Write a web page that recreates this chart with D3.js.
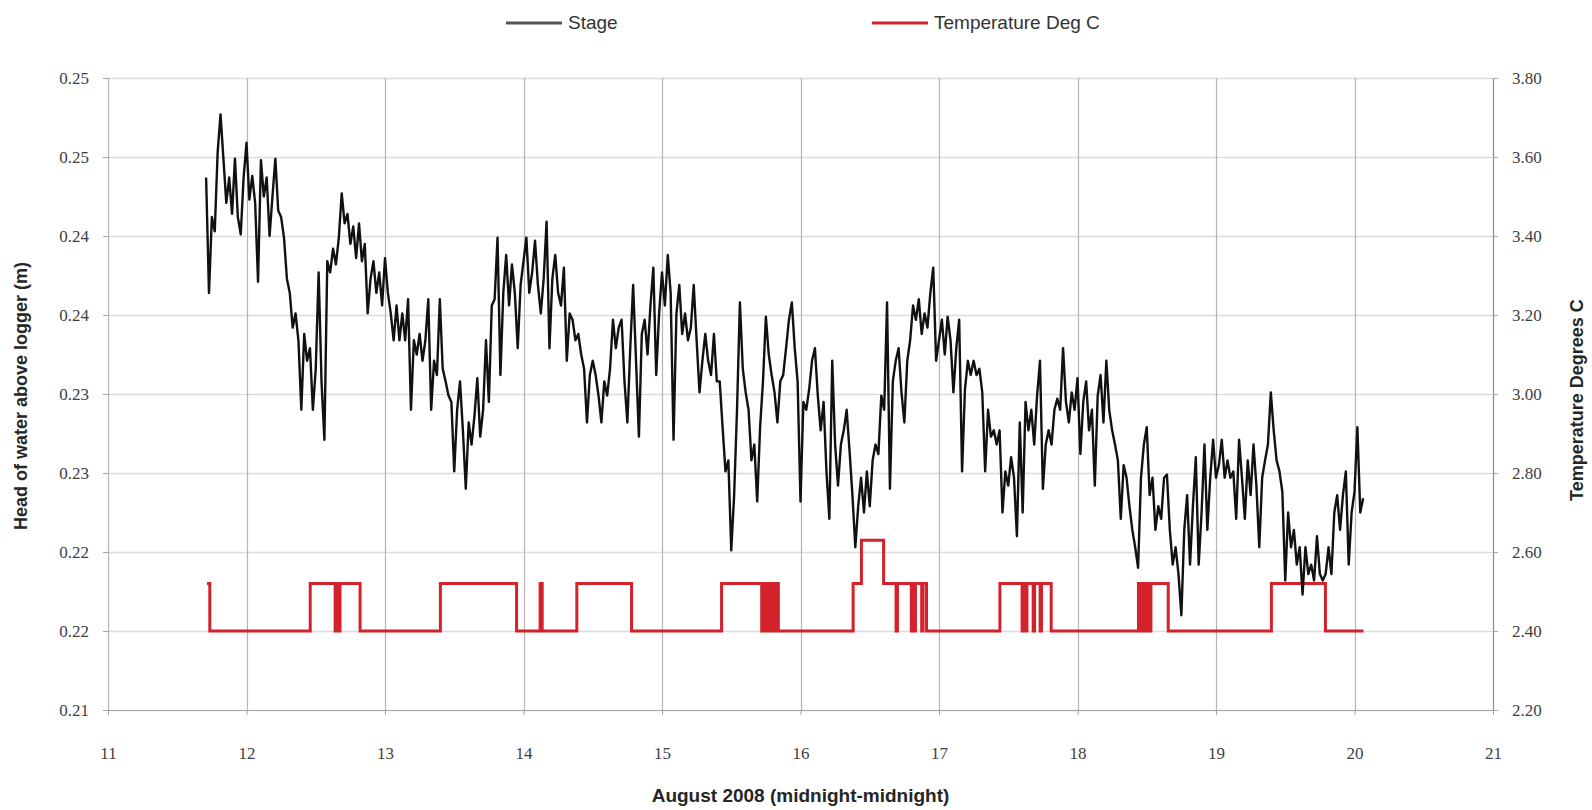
<!DOCTYPE html>
<html>
<head>
<meta charset="utf-8">
<script src="https://cdn.jsdelivr.net/npm/d3@7"></script>
<style>
  html, body { margin: 0; padding: 0; background: #fff; }
  svg { display: block; }
</style>
</head>
<body>
<svg id="chart" width="1592" height="810"></svg>
<script>
// ---------------- DATA ----------------
const dayTicks = [11, 12, 13, 14, 15, 16, 17, 18, 19, 20, 21];
const stageTickValues = [0.21, 0.215, 0.22, 0.225, 0.23, 0.235, 0.24, 0.245, 0.25];
const stageTickLabels = ["0.21", "0.22", "0.22", "0.23", "0.23", "0.24", "0.24", "0.25", "0.25"];
const tempTickValues = [2.2, 2.4, 2.6, 2.8, 3.0, 3.2, 3.4, 3.6, 3.8];
const tempTickLabels = ["2.20", "2.40", "2.60", "2.80", "3.00", "3.20", "3.40", "3.60", "3.80"];

// Stage logged every 30 minutes from 17:00 on 11 August
const stageStartDay = 11.7083;
const stageIntervalDays = 1 / 48;
const stageValues = [
  0.2437,0.2364,0.2412,0.2403,0.2453,0.2477,0.2449,0.2421,0.2437,0.2414,
  0.2449,0.2412,0.2401,0.2437,0.2459,0.2423,0.2438,0.2421,0.2371,0.2448,
  0.2425,0.2437,0.2400,0.2425,0.2449,0.2416,0.2412,0.2399,0.2373,0.2364,
  0.2342,0.2351,0.2334,0.2290,0.2338,0.2321,0.2329,0.2290,0.2316,0.2377,
  0.2308,0.2271,0.2384,0.2377,0.2392,0.2382,0.2399,0.2427,0.2408,0.2414,
  0.2395,0.2406,0.2386,0.2408,0.2384,0.2395,0.2351,0.2373,0.2384,0.2364,
  0.2377,0.2356,0.2386,0.2364,0.2351,0.2334,
  0.2356,0.2334,0.2351,0.2334,
  0.2360,0.2290,0.2334,0.2325,0.2338,0.2321,0.2334,0.2360,0.2290,0.2321,
  0.2312,0.2360,0.2316,0.2308,0.2299,0.2295,0.2251,0.2290,0.2308,0.2277,
  0.2240,0.2282,0.2268,0.2286,0.2310,0.2273,0.2290,0.2334,0.2295,0.2356,
  0.2360,0.2399,0.2312,0.2364,0.2388,0.2356,0.2382,0.2364,0.2329,0.2369,
  0.2384,0.2399,0.2364,0.2377,0.2397,0.2369,0.2351,0.2373,0.2409,0.2329,
  0.2373,0.2388,0.2364,0.2356,0.2380,0.2321,0.2351,0.2347,0.2334,0.2338,
  0.2325,0.2316,0.2282,0.2312,
  0.2321,0.2312,0.2299,0.2282,0.2308,0.2299,
  0.2316,0.2347,0.2329,0.2342,0.2347,0.2308,0.2282,0.2329,0.2369,0.2321,
  0.2273,0.2338,0.2347,0.2325,0.2356,0.2380,0.2312,0.2351,0.2377,0.2356,
  0.2388,0.2364,0.2271,0.2351,0.2369,0.2338,0.2351,0.2334,0.2342,0.2369,
  0.2334,0.2301,0.2321,0.2338,0.2321,0.2312,0.2338,0.2308,0.2308,0.2279,
  0.2251,0.2258,0.2201,0.2236,0.2290,0.2358,0.2316,0.2301,0.2290,0.2258,
  0.2268,0.2232,0.2279,0.2308,0.2349,0.2325,0.2312,0.2301,0.2282,0.2308,
  0.2312,
  0.2329,0.2347,0.2358,0.2329,0.2308,0.2232,0.2295,0.2290,0.2303,
  0.2321,0.2329,0.2299,0.2277,0.2295,0.2251,0.2221,0.2321,0.2268,0.2242,
  0.2268,0.2277,0.2290,0.2264,0.2236,0.2203,0.2229,0.2247,0.2225,0.2251,
  0.2229,0.2258,0.2268,0.2262,0.2299,0.2290,0.2358,0.2240,0.2308,0.2321,
  0.2329,0.2301,0.2282,0.2321,0.2334,0.2356,0.2347,0.2360,0.2338,0.2351,
  0.2342,0.2364,0.2380,0.2321,0.2334,0.2347,0.2325,0.2349,0.2334,0.2301,
  0.2329,0.2347,0.2251,0.2303,0.2321,0.2312,0.2321,0.2312,0.2316,
  0.2301,0.2251,0.2290,0.2273,0.2277,0.2268,0.2277,0.2225,0.2251,0.2242,0.2260,
  0.2247,0.2210,0.2282,0.2225,0.2295,0.2277,0.2290,0.2268,0.2299,0.2321,
  0.2240,0.2268,0.2277,0.2268,0.2290,0.2297,0.2290,0.2329,0.2295,0.2282,
  0.2301,0.2290,0.2310,0.2262,0.2295,0.2308,0.2277,0.2290,0.2242,0.2299,
  0.2312,0.2282,0.2321,0.2290,0.2277,0.2268,0.2258,0.2221,0.2255,0.2247,
  0.2229,0.2214,0.2203,0.2190,0.2247,0.2268,0.2279,0.2236,0.2247,0.2214,
  0.2229,0.2221,0.2247,0.2249,0.2214,0.2192,
  0.2203,0.2186,0.2160,0.2214,
  0.2236,0.2192,0.2229,0.2260,0.2192,0.2225,0.2268,0.2214,0.2247,0.2271,
  0.2247,0.2255,0.2271,0.2247,0.2258,0.2247,0.2251,0.2221,0.2271,0.2247,
  0.2221,0.2258,0.2236,0.2268,0.2242,0.2203,0.2247,0.2258,0.2268,0.2301,
  0.2277,0.2258,0.2251,0.2238,0.2182,0.2225,0.2203,0.2214,0.2192,0.2203,
  0.2173,0.2203,0.2186,0.2192,0.2182,0.2210,0.2186,0.2182,0.2186,0.2203,
  0.2186,0.2225,0.2236,0.2214,0.2236,0.2251,0.2192,0.2225,0.2238,0.2279,
  0.2225,0.2234
];

// Temperature change points (step function)
const tempDays = [
  11.715, 11.735, 12.46, 12.64, 12.655, 12.665, 12.675, 12.82,
  13.40, 13.95, 14.12, 14.135, 14.385, 14.78,
  15.43, 15.72, 15.73, 15.74, 15.75, 15.76, 15.77, 15.78, 15.79, 15.80, 15.81, 15.82, 15.83, 15.84,
  16.38, 16.44, 16.60, 16.69, 16.70, 16.80, 16.81, 16.82, 16.83, 16.875, 16.885, 16.91,
  17.44, 17.60, 17.61, 17.625, 17.635, 17.68, 17.69, 17.73, 17.74, 17.81,
  18.44, 18.46, 18.47, 18.49, 18.50, 18.52, 18.53, 18.655,
  19.40, 19.79, 20.065
];
const tempValues = [
  2.52, 2.40, 2.52, 2.40, 2.52, 2.40, 2.52, 2.40,
  2.52, 2.40, 2.52, 2.40, 2.52, 2.40,
  2.52, 2.40, 2.52, 2.40, 2.52, 2.40, 2.52, 2.40, 2.52, 2.40, 2.52, 2.40, 2.52, 2.40,
  2.52, 2.63, 2.52, 2.40, 2.52, 2.40, 2.52, 2.40, 2.52, 2.40, 2.52, 2.40,
  2.52, 2.40, 2.52, 2.40, 2.52, 2.40, 2.52, 2.40, 2.52, 2.40,
  2.52, 2.40, 2.52, 2.40, 2.52, 2.40, 2.52, 2.40,
  2.52, 2.40, 2.40
];

const seriesNames = ["Stage", "Temperature Deg C"];
const xTitle = "August 2008 (midnight-midnight)";
const yLeftTitle = "Head of water above logger (m)";
const yRightTitle = "Temperature Degrees C";

// ---------------- CHART ----------------
const svg = d3.select("#chart");
const plot = { left: 108, right: 1493, top: 78, bottom: 710 };

const x = d3.scaleLinear().domain([11, 21]).range([plot.left, plot.right]);
const yL = d3.scaleLinear().domain([0.21, 0.25]).range([plot.bottom, plot.top]);
const yR = d3.scaleLinear().domain([2.2, 3.8]).range([plot.bottom, plot.top]);

const tickFont = "'Liberation Serif', 'DejaVu Serif', serif";
const sansFont = "'Liberation Sans', Arial, sans-serif";

// horizontal gridlines
svg.append("g").selectAll("line").data(stageTickValues).join("line")
  .attr("x1", plot.left).attr("x2", plot.right)
  .attr("y1", d => Math.round(yL(d)) + 0.5).attr("y2", d => Math.round(yL(d)) + 0.5)
  .attr("stroke", "#dcdcdc").attr("stroke-width", 1.5);

// vertical gridlines
svg.append("g").selectAll("line").data(dayTicks).join("line")
  .attr("x1", d => Math.round(x(d)) + 0.5).attr("x2", d => Math.round(x(d)) + 0.5)
  .attr("y1", plot.top).attr("y2", plot.bottom)
  .attr("stroke", d => d === 21 ? "#8c8c8c" : "#b4b4b4").attr("stroke-width", 1.2);

// bottom border
svg.append("line")
  .attr("x1", plot.left).attr("x2", plot.right)
  .attr("y1", plot.bottom + 0.5).attr("y2", plot.bottom + 0.5)
  .attr("stroke", "#a6a6a6").attr("stroke-width", 1.2);

// axes
const xAxis = d3.axisBottom(x).tickValues(dayTicks).tickSize(5).tickPadding(32).tickFormat(d3.format("d"));
const gx = svg.append("g").attr("transform", `translate(0,${plot.bottom})`).call(xAxis);
const yAxisL = d3.axisLeft(yL).tickValues(stageTickValues).tickSize(5).tickPadding(14)
  .tickFormat((d, i) => stageTickLabels[i]);
const gyl = svg.append("g").attr("transform", `translate(${plot.left},0)`).call(yAxisL);
const yAxisR = d3.axisRight(yR).tickValues(tempTickValues).tickSize(5).tickPadding(14)
  .tickFormat((d, i) => tempTickLabels[i]);
const gyr = svg.append("g").attr("transform", `translate(${plot.right},0)`).call(yAxisR);

[gx, gyl, gyr].forEach(g => {
  g.select(".domain").remove();
  g.selectAll(".tick line").attr("stroke", "#a6a6a6");
  g.selectAll(".tick text").attr("fill", "#404040")
    .style("font-family", tickFont).style("font-size", "17px");
});

// temperature line
const tempData = tempDays.map((d, i) => ({ day: d, v: tempValues[i] }));
const tempLine = d3.line().x(d => x(d.day)).y(d => yR(d.v)).curve(d3.curveStepAfter);
svg.append("path").datum(tempData)
  .attr("d", tempLine).attr("fill", "none")
  .attr("stroke", "#d3222b").attr("stroke-width", 3).attr("stroke-linejoin", "miter");

// stage line
const stageData = stageValues.map((v, i) => ({ day: stageStartDay + i * stageIntervalDays, v }));
const stageLine = d3.line().x(d => x(d.day)).y(d => yL(d.v));
svg.append("path").datum(stageData)
  .attr("d", stageLine).attr("fill", "none")
  .attr("stroke", "#111").attr("stroke-width", 2.4).attr("stroke-linejoin", "round");

// axis titles
svg.append("text")
  .attr("x", (plot.left + plot.right) / 2).attr("y", 797)
  .attr("text-anchor", "middle").attr("dominant-baseline", "middle")
  .style("font-family", sansFont).style("font-size", "19px").style("font-weight", "bold")
  .attr("fill", "#262626").text(xTitle);

svg.append("text")
  .attr("transform", "translate(22,396) rotate(-90)")
  .attr("text-anchor", "middle").attr("dominant-baseline", "middle")
  .style("font-family", sansFont).style("font-size", "18px").style("font-weight", "bold")
  .attr("fill", "#262626").text(yLeftTitle);

svg.append("text")
  .attr("transform", "translate(1578,400) rotate(-90)")
  .attr("text-anchor", "middle").attr("dominant-baseline", "middle")
  .style("font-family", sansFont).style("font-size", "18px").style("font-weight", "bold")
  .attr("fill", "#262626").text(yRightTitle);

// legend
const legendItems = [
  { name: seriesNames[0], color: "#555", x1: 506 },
  { name: seriesNames[1], color: "#d3222b", x1: 872 }
];
const lg = svg.append("g");
legendItems.forEach(it => {
  lg.append("line").attr("x1", it.x1).attr("x2", it.x1 + 56)
    .attr("y1", 23).attr("y2", 23)
    .attr("stroke", it.color).attr("stroke-width", 3);
  lg.append("text").attr("x", it.x1 + 62).attr("y", 24)
    .attr("dominant-baseline", "middle")
    .style("font-family", sansFont).style("font-size", "19px")
    .attr("fill", "#333").text(it.name);
});
</script>
</body>
</html>
